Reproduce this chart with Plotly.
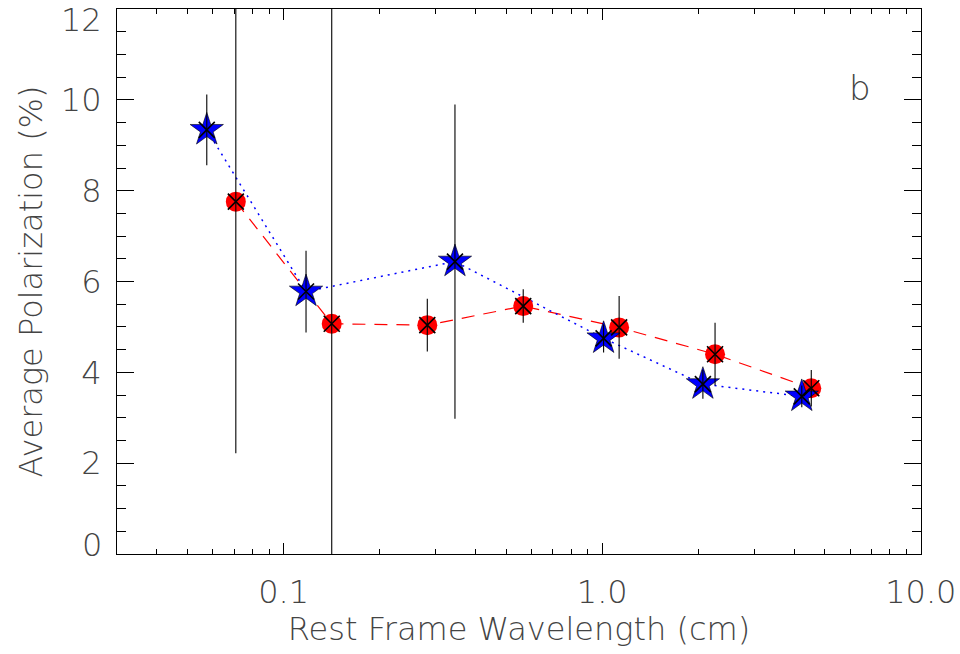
import plotly.graph_objects as go
import numpy as np

# Blue stars (dotted line)
star_x = [0.0574, 0.1176, 0.345, 1.01, 2.07, 4.23]
star_y = [9.34, 5.78, 6.44, 4.75, 3.74, 3.47]
star_err = [0.78, 0.90, 3.46, 0.31, 0.32, 0.24]

# Red circles (dashed line)
circ_x = [0.0708, 0.1416, 0.2825, 0.565, 1.13, 2.26, 4.53]
circ_y = [7.76, 5.07, 5.04, 5.46, 4.99, 4.40, 3.65]
circ_err = [5.54, 8.0, 0.58, 0.37, 0.69, 0.69, 0.40]

x_ticks = [0.1, 1.0, 10.0]
x_tick_labels = ["0.1", "1.0", "10.0"]
x_minor = [0.03, 0.04, 0.05, 0.06, 0.07, 0.08, 0.09,
           0.2, 0.3, 0.4, 0.5, 0.6, 0.7, 0.8, 0.9,
           2, 3, 4, 5, 6, 7, 8, 9]
y_ticks = [0, 2, 4, 6, 8, 10, 12]
y_tick_labels = ["0", "2", "4", "6", "8", "10", "12"]

FONT = "DejaVu Sans ExtraLight, DejaVu Sans"
TXT = "#444444"

fig = go.Figure()

fig.add_trace(go.Scatter(x=circ_x, y=circ_y, mode="lines",
                         line=dict(color="#ff0000", width=1.2, dash="13px,9px"),
                         hoverinfo="skip", showlegend=False))
fig.add_trace(go.Scatter(x=star_x, y=star_y, mode="lines",
                         line=dict(color="#0000ff", width=1.5, dash="2px,5px"),
                         hoverinfo="skip", showlegend=False))
fig.add_trace(go.Scatter(x=circ_x, y=circ_y, mode="markers",
                         marker=dict(symbol="circle", size=20, color="#ff0000",
                                     line=dict(width=0)),
                         showlegend=False))
fig.add_trace(go.Scatter(x=star_x, y=star_y, mode="markers",
                         marker=dict(symbol="star", size=25, color="#0000ff",
                                     line=dict(width=0.6, color="#000000")),
                         showlegend=False))
for xs, ys, es in [(circ_x, circ_y, circ_err), (star_x, star_y, star_err)]:
    fig.add_trace(go.Scatter(x=xs, y=ys, mode="markers",
                             marker=dict(symbol="x-thin", size=16,
                                         line=dict(width=1.6, color="#000000")),
                             error_y=dict(type="data", array=es, visible=True,
                                          color="#000000", thickness=1.1, width=0),
                             showlegend=False))

axis_common = dict(showgrid=False, zeroline=False, showline=True,
                   linecolor="#000000", linewidth=1.2, ticks="inside",
                   tickcolor="#000000", tickwidth=1.1, automargin=False)

xminor = dict(ticks="inside", ticklen=5, tickcolor="#000000", tickwidth=1.1,
              showgrid=False, tickvals=x_minor)
yminor = dict(ticks="inside", ticklen=9, dtick=0.5, tickcolor="#000000",
              tickwidth=1.1, showgrid=False)
yrange = [0, 12.002]
xrange = [np.log10(0.03), 1.0005]

# inner y labels on the axis; end labels (0, 12) set inside the frame as IDL does
inner_text = [t if t not in (y_tick_labels[0], y_tick_labels[-1]) else ""
              for t in y_tick_labels]
end_annotations = []
for val, txt, shift in [(y_ticks[0], y_tick_labels[0], 9),
                        (y_ticks[-1], y_tick_labels[-1], -11)]:
    end_annotations.append(dict(text=txt, x=0, y=val, xref="paper", yref="y",
                                xanchor="right", yanchor="middle",
                                xshift=-13, yshift=shift, showarrow=False,
                                font=dict(size=32, color=TXT)))

fig.update_layout(
    width=960, height=654,
    margin=dict(l=117, r=39, t=9, b=100),
    paper_bgcolor="white", plot_bgcolor="white",
    font=dict(family=FONT, color=TXT, size=32, weight=200),
    xaxis=dict(type="log", range=xrange,
               tickvals=x_ticks, ticktext=x_tick_labels,
               ticklen=11, ticklabelstandoff=9, minor=xminor,
               ticklabeloverflow="allow",
               title=dict(text="Rest Frame Wavelength (cm)", standoff=8,
                          font=dict(size=32)),
               **axis_common),
    yaxis=dict(range=yrange, tickvals=y_ticks, ticktext=inner_text, ticklen=17,
               ticklabelstandoff=8, minor=yminor,
               title=dict(text="Average Polarization (%)", standoff=8,
                          font=dict(size=32)),
               **axis_common),
    xaxis2=dict(type="log", range=xrange, overlaying="x",
                side="top", tickvals=x_ticks, showticklabels=False, ticklen=11,
                minor=xminor, **axis_common),
    yaxis2=dict(range=yrange, overlaying="y", side="right",
                tickvals=y_ticks, showticklabels=False, ticklen=17,
                minor=yminor, **axis_common),
    annotations=[dict(text="b", x=0.924, y=0.855, xref="paper", yref="paper",
                      xanchor="center", yanchor="middle",
                      showarrow=False, font=dict(size=34, color=TXT))]
                + end_annotations,
)
fig.add_trace(go.Scatter(x=[0.05], y=[1], xaxis="x2", yaxis="y2", mode="markers",
                         marker=dict(opacity=0), hoverinfo="skip", showlegend=False))

fig.write_html("out.html", config={"displayModeBar": False},
               post_script="document.body.style.margin='0px';")
